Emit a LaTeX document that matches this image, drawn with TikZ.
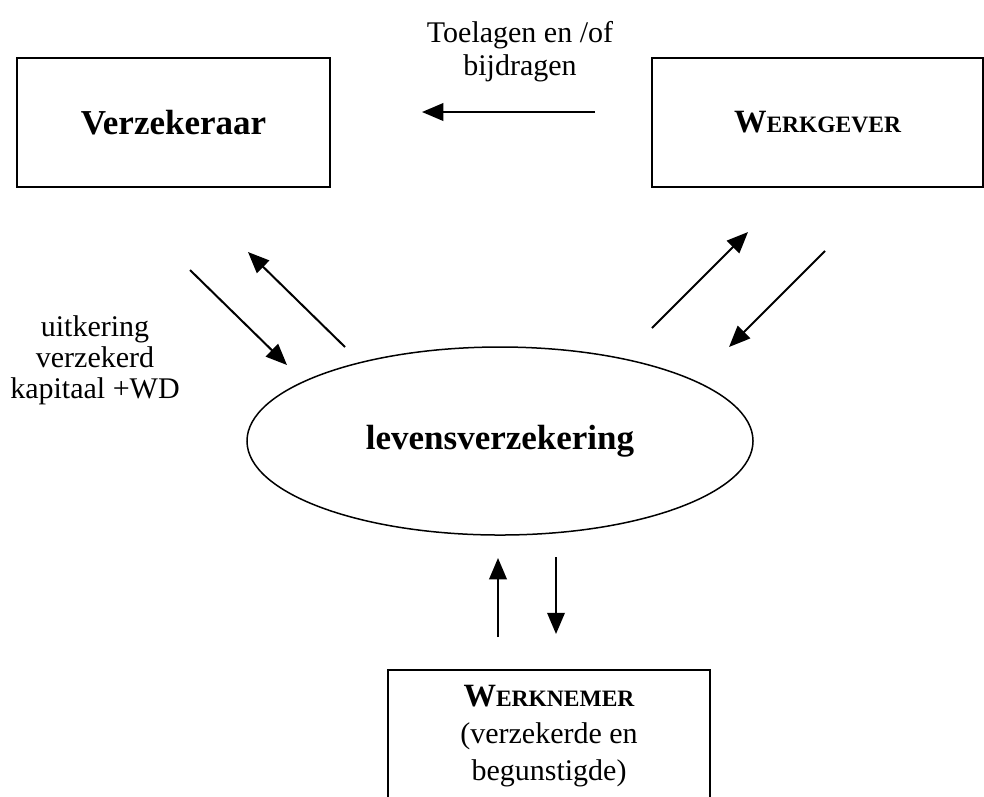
\documentclass[tikz,border=0pt]{standalone}
\usepackage{fontspec}
\setmainfont{Liberation Serif}
\usetikzlibrary{positioning}
\usetikzlibrary{arrows.meta,shapes.geometric}
\newcommand{\capsword}[2]{{\fontsize{13}{16}\selectfont #1}{\fontsize{9.4}{16}\selectfont #2}}

\begin{document}
\begin{tikzpicture}[x=0.4pt, y=-0.4pt,
            squarednode/.style={rectangle, draw=black, line width=0.8pt, font=\bfseries\fontsize{14}{16}\selectfont},
            ovalnode/.style={ellipse, draw=black, line width=0.6pt, inner sep=0pt, minimum width=202.4pt, minimum height=75.2pt, font=\bfseries\fontsize{14}{16}\selectfont},
            flowarrow/.style={line width=0.8pt, -{Triangle[length=8.5pt, width=7pt]}},
            textlabel/.style={align=center, font=\fontsize{12}{13.3}\selectfont},
        ]
            \useasboundingbox (0,0) rectangle (984,796);
            % Nodes
            \node[squarednode, minimum width=125.2pt, minimum height=51.6pt] (insurer) at (173.5,122.5) {Verzekeraar};
            \node[squarednode, minimum width=132.4pt, minimum height=51.6pt] (employer) at (817.5,122.5) {\capsword{W}{ERKGEVER}};
            \node[ovalnode] (policy) at (500,441) {levensverzekering};
            \node[squarednode, minimum width=128.8pt, minimum height=53.2pt, align=center, font=\fontsize{12}{14.8}\selectfont] (employee) at (549,736) {{\bfseries\capsword{W}{ERKNEMER}}\\(verzekerde en\\begunstigde)};
            \node[textlabel] (premium) at (520,52) {Toelagen en /of\\bijdragen};
            \node[textlabel, font=\fontsize{12}{12.4}\selectfont] (payout) at (95,360) {uitkering\\verzekerd\\kapitaal +WD};
%
%            % Lines
            \coordinate (topstart) at (595,112);
            \coordinate (topend) at (422,112);
            \coordinate (leftdownstart) at (190,270);
            \coordinate (leftdownend) at (287,365);
            \coordinate (leftupstart) at (345,347);
            \coordinate (leftupend) at (248,252);
            \coordinate (rightupstart) at (652,328);
            \coordinate (rightupend) at (748,232);
            \coordinate (rightdownstart) at (825,251);
            \coordinate (rightdownend) at (729,347);
            \coordinate (bottomupstart) at (498,637);
            \coordinate (bottomupend) at (498,558);
            \coordinate (bottomdownstart) at (556,557);
            \coordinate (bottomdownend) at (556,634);
            \draw[flowarrow] (topstart) -- (topend);
            \draw[flowarrow] (leftdownstart) -- (leftdownend);
            \draw[flowarrow] (leftupstart) -- (leftupend);
            \draw[flowarrow] (rightupstart) -- (rightupend);
            \draw[flowarrow] (rightdownstart) -- (rightdownend);
            \draw[flowarrow] (bottomupstart) -- (bottomupend);
            \draw[flowarrow] (bottomdownstart) -- (bottomdownend);
        \end{tikzpicture}
\end{document}
